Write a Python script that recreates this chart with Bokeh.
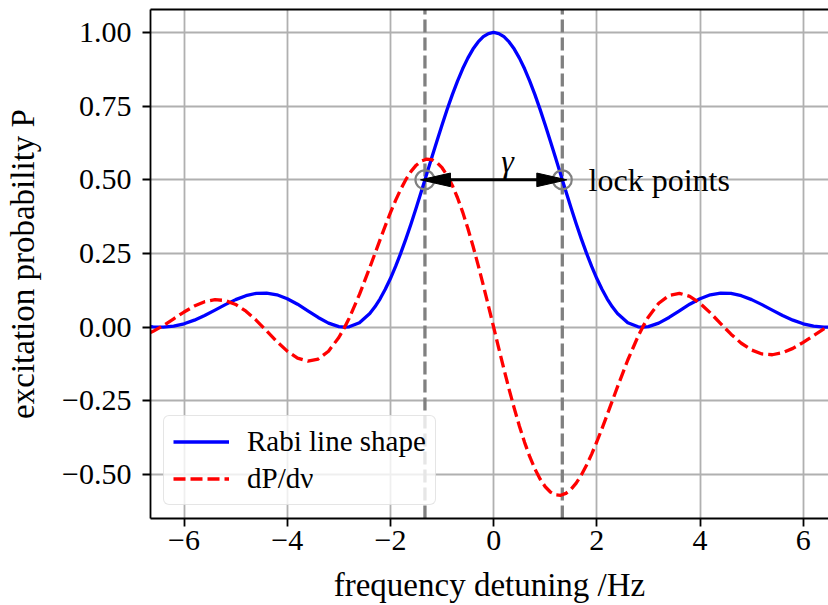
from bokeh.plotting import figure
from bokeh.models import Label, LinearAxis, FixedTicker
from bokeh.embed import file_html
from bokeh.resources import INLINE

# ---------------- data ----------------
nu = [-6.65, -6.6, -6.4, -6.2, -6.0, -5.8, -5.6, -5.4, -5.2, -5.0, -4.8, -4.6,
      -4.4, -4.2, -4.0, -3.8, -3.6, -3.4, -3.2, -3.0, -2.9, -2.8, -2.6, -2.4,
      -2.3, -2.2, -2.1, -2.0, -1.9, -1.8, -1.7, -1.6, -1.5, -1.4, -1.3, -1.2,
      -1.1, -1.0, -0.9, -0.8, -0.7, -0.6, -0.5, -0.4, -0.3, -0.2, -0.1, 0.0,
      0.1, 0.2, 0.3, 0.4, 0.5, 0.6, 0.7, 0.8, 0.9, 1.0, 1.1, 1.2, 1.3, 1.4,
      1.5, 1.6, 1.7, 1.8, 1.9, 2.0, 2.1, 2.2, 2.3, 2.4, 2.6, 2.8, 2.9, 3.0,
      3.2, 3.4, 3.6, 3.8, 4.0, 4.2, 4.4, 4.6, 4.8, 5.0, 5.2, 5.4, 5.6, 5.8,
      6.0, 6.2, 6.4, 6.6, 6.65]

rabi = [0.0019, 0.0010, 0.0002, 0.0036, 0.0116, 0.0240, 0.0400, 0.0581, 0.0767,
        0.0936, 0.1070, 0.1149, 0.1160, 0.1099, 0.0968, 0.0780, 0.0558, 0.0332,
        0.0140, 0.0020, 0.0000, 0.0013, 0.0153, 0.0465, 0.0691, 0.0965, 0.1286,
        0.1652, 0.2062, 0.2512, 0.2997, 0.3512, 0.4052, 0.4610, 0.5177, 0.5748,
        0.6312, 0.6863, 0.7392, 0.7891, 0.8351, 0.8767, 0.9131, 0.9437, 0.9680,
        0.9857, 0.9964, 1.0,
        0.9964, 0.9857, 0.9680, 0.9437, 0.9131, 0.8767, 0.8351, 0.7891, 0.7392,
        0.6863, 0.6312, 0.5748, 0.5177, 0.4610, 0.4052, 0.3512, 0.2997, 0.2512,
        0.2062, 0.1652, 0.1286, 0.0965, 0.0691, 0.0465, 0.0153, 0.0013, 0.0000,
        0.0020, 0.0140, 0.0332, 0.0558, 0.0780, 0.0968, 0.1099, 0.1160, 0.1149,
        0.1070, 0.0936, 0.0767, 0.0581, 0.0400, 0.0240, 0.0116, 0.0036, 0.0002,
        0.0010, 0.0019]

deriv = [-0.0183, -0.0140, 0.0058, 0.0286, 0.0515, 0.0718, 0.0866, 0.0934, 0.0906,
         0.0773, 0.0544, 0.0235, -0.0122, -0.0487, -0.0811, -0.1047, -0.1149,
         -0.1079, -0.0814, -0.0349, -0.0044, 0.0305, 0.1113, 0.2025, 0.2499,
         0.2974, 0.3440, 0.3886, 0.4304, 0.4682, 0.5013, 0.5288, 0.5498, 0.5639,
         0.5703, 0.5688, 0.5591, 0.5412, 0.5150, 0.4809, 0.4393, 0.3907, 0.3358,
         0.2755, 0.2107, 0.1424, 0.0718, 0.0,
         -0.0718, -0.1424, -0.2107, -0.2755, -0.3358, -0.3907, -0.4393, -0.4809,
         -0.5150, -0.5412, -0.5591, -0.5688, -0.5703, -0.5639, -0.5498, -0.5288,
         -0.5013, -0.4682, -0.4304, -0.3886, -0.3440, -0.2974, -0.2499, -0.2025,
         -0.1113, -0.0305, 0.0044, 0.0349, 0.0814, 0.1079, 0.1149, 0.1047, 0.0811,
         0.0487, 0.0122, -0.0235, -0.0544, -0.0773, -0.0906, -0.0934, -0.0866,
         -0.0718, -0.0515, -0.0286, -0.0058, 0.0140, 0.0183]

lock_x = [-1.331, 1.331]
lock_y = [0.5, 0.5]

x_ticks = [-6, -4, -2, 0, 2, 4, 6]
x_labels = ["\u22126", "\u22124", "\u22122", "0", "2", "4", "6"]
y_ticks = [-0.5, -0.25, 0.0, 0.25, 0.5, 0.75, 1.0]
y_labels = ["\u22120.50", "\u22120.25", "0.00", "0.25", "0.50", "0.75", "1.00"]

series_names = ["Rabi line shape", "dP/d\u03bd"]
gamma_label = "\u03b3"
lock_label = "lock points"
x_title = "frequency detuning /Hz"
y_title = "excitation probability P"

# ---------------- layout ----------------
W, H = 828, 605
LEFT, TOP, BOTTOM = 150, 9, 87
x0, x1 = -6.65, 6.49
y0, y1 = -0.649, 1.078
FONT = "Liberation Serif"

p = figure(width=W, height=H, x_range=(x0, x1), y_range=(y0, y1),
           output_backend="svg", toolbar_location=None,
           min_border_left=LEFT, min_border_right=0,
           min_border_top=TOP, min_border_bottom=BOTTOM)
p.outline_line_color = None
p.background_fill_color = "white"
p.border_fill_color = "white"

# top spine
top_axis = LinearAxis(ticker=FixedTicker(ticks=[]), axis_line_width=1.8,
                      major_tick_line_color=None, minor_tick_line_color=None,
                      major_label_text_font_size="0px")
p.add_layout(top_axis, "above")

xa = p.below[0]
ya = p.left[0]
for ax, ticks, labels in ((xa, x_ticks, x_labels), (ya, y_ticks, y_labels)):
    ax.ticker = FixedTicker(ticks=ticks)
    ax.major_label_overrides = {t: l for t, l in zip(ticks, labels)}
    ax.axis_line_width = 1.8
    ax.axis_line_color = "black"
    ax.major_tick_line_width = 1.8
    ax.major_tick_in = 0
    ax.major_tick_out = 8
    ax.minor_tick_line_color = None
    ax.major_label_text_font = FONT
    ax.major_label_text_font_size = "30px"
    ax.major_label_text_color = "black"
    ax.axis_label_text_font = FONT
    ax.axis_label_text_font_size = "33px"
    ax.axis_label_text_font_style = "normal"
    ax.axis_label_text_color = "black"

xa.axis_label = x_title
ya.axis_label = y_title
xa.major_label_standoff = 4
ya.major_label_standoff = 11
xa.axis_label_standoff = 14
ya.axis_label_standoff = 18

p.xgrid.ticker = FixedTicker(ticks=x_ticks)
p.ygrid.ticker = FixedTicker(ticks=y_ticks)
for g in (p.xgrid, p.ygrid):
    g.grid_line_color = "#b0b0b0"
    g.grid_line_width = 1.8

# vertical dashed lines at the lock points
p.segment(x0=lock_x, y0=[y0] * len(lock_x), x1=lock_x, y1=[y1] * len(lock_x),
          line_color="#808080", line_width=3.3, line_dash="13 5")

p.line(nu, rabi, line_color="#0000ff", line_width=3.3, line_join="round",
       legend_label=series_names[0])
p.line(nu, deriv, line_color="#ff0000", line_width=3.3, line_dash="12 5",
       line_join="round", legend_label=series_names[1])

# lock point circles
p.scatter(lock_x, lock_y, size=19, fill_color=None, line_color="#808080", line_width=2.2)

# double arrow between the lock points
px_x = (x1 - x0) / (W - LEFT)
px_y = (y1 - y0) / (H - TOP - BOTTOM)
head_len = 30 * px_x
head_hw = 6.8 * px_y
tip_off = 4.5 * px_x
tipL = lock_x[0] - tip_off
tipR = lock_x[1] + tip_off
ay = lock_y[0]
p.line([tipL + head_len * 0.5, tipR - head_len * 0.5], [ay, ay], line_color="black", line_width=3)
p.patches([[tipL, tipL + head_len, tipL + head_len], [tipR, tipR - head_len, tipR - head_len]],
          [[ay, ay + head_hw, ay - head_hw], [ay, ay + head_hw, ay - head_hw]],
          fill_color="black", line_color="black", line_width=1)

p.add_layout(Label(x=0.27, y=0.565, text=gamma_label, text_font=FONT, text_font_style="italic",
                   text_font_size="32px", text_align="center", text_baseline="middle",
                   text_color="black"))
p.add_layout(Label(x=1.84, y=0.5, text=lock_label, text_font=FONT, text_font_size="32px",
                   text_align="left", text_baseline="alphabetic", text_color="black"))

lg = p.legend[0]
lg.location = "bottom_left"
lg.margin = 13
lg.padding = 9
lg.spacing = 4
lg.glyph_width = 56
lg.glyph_height = 33
lg.label_height = 33
lg.label_standoff = 18
lg.label_text_font = FONT
lg.label_text_font_size = "29px"
lg.label_text_color = "black"
lg.border_line_color = "#cccccc"
lg.border_line_width = 1.8
lg.background_fill_color = "white"
lg.background_fill_alpha = 0.8
if "border_radius" in lg.properties():
    lg.border_radius = 6

open("out.html", "w").write(file_html(p, INLINE))
